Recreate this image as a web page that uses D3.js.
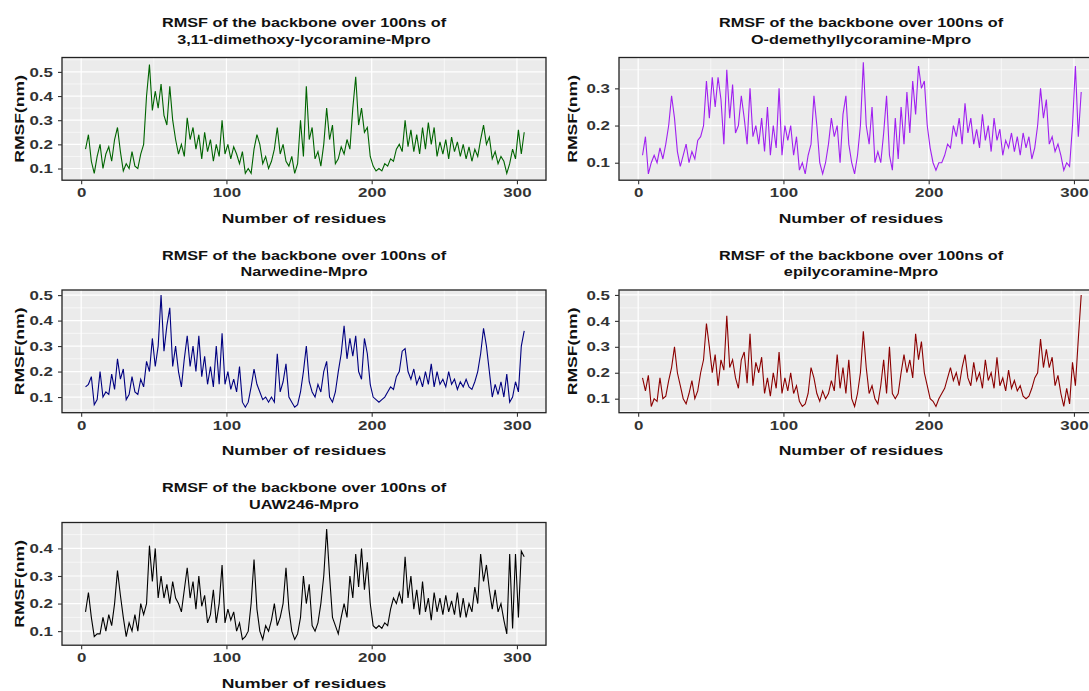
<!DOCTYPE html>
<html>
<head>
<meta charset="utf-8">
<script src="https://cdn.jsdelivr.net/npm/d3@7"></script>
<style>
  body { margin: 0; background: #fff; }
  svg { display: block; font-family: "Liberation Sans", Arial, sans-serif; }
</style>
</head>
<body>
<div id="chart"></div>
<script>
// residue positions (every second residue)
const residues = d3.range(3, 306, 2);

const rmsfDimethoxy = [
  0.18,0.24,0.13,0.08,0.15,0.20,0.10,0.16,0.19,0.13,
  0.22,0.27,0.17,0.09,0.12,0.10,0.17,0.11,0.10,0.16,
  0.20,0.40,0.53,0.34,0.42,0.35,0.45,0.32,0.28,0.44,
  0.30,0.22,0.16,0.20,0.15,0.31,0.22,0.27,0.18,0.24,
  0.14,0.25,0.17,0.22,0.13,0.20,0.15,0.30,0.16,0.20,
  0.14,0.19,0.16,0.12,0.17,0.08,0.10,0.08,0.18,0.24,
  0.20,0.12,0.15,0.10,0.13,0.18,0.27,0.16,0.20,0.13,
  0.11,0.15,0.08,0.12,0.30,0.15,0.44,0.22,0.27,0.14,
  0.17,0.11,0.20,0.35,0.22,0.28,0.12,0.14,0.19,0.16,
  0.22,0.18,0.35,0.48,0.28,0.35,0.25,0.27,0.15,0.11,
  0.09,0.10,0.09,0.12,0.11,0.14,0.13,0.18,0.20,0.17,
  0.30,0.19,0.26,0.17,0.24,0.16,0.27,0.18,0.29,0.20,
  0.27,0.15,0.21,0.16,0.22,0.14,0.23,0.17,0.21,0.15,
  0.20,0.14,0.19,0.13,0.18,0.15,0.22,0.28,0.20,0.23,
  0.14,0.17,0.12,0.15,0.13,0.08,0.12,0.18,0.14,0.26,
  0.16,0.25
];

const rmsfDemethyl = [
  0.12,0.17,0.07,0.10,0.12,0.10,0.14,0.11,0.15,0.20,
  0.28,0.22,0.13,0.09,0.12,0.15,0.10,0.13,0.11,0.16,
  0.17,0.20,0.32,0.22,0.33,0.25,0.33,0.27,0.15,0.35,
  0.22,0.31,0.18,0.20,0.28,0.22,0.15,0.30,0.17,0.20,
  0.15,0.22,0.13,0.25,0.12,0.20,0.14,0.30,0.12,0.20,
  0.16,0.20,0.12,0.17,0.08,0.10,0.07,0.12,0.15,0.28,
  0.20,0.10,0.07,0.10,0.15,0.22,0.17,0.20,0.10,0.23,
  0.28,0.15,0.10,0.07,0.12,0.20,0.37,0.20,0.15,0.25,
  0.10,0.13,0.10,0.18,0.28,0.12,0.08,0.22,0.11,0.25,
  0.15,0.29,0.18,0.32,0.23,0.36,0.30,0.32,0.20,0.14,
  0.10,0.08,0.10,0.10,0.12,0.15,0.14,0.20,0.17,0.22,
  0.15,0.26,0.18,0.22,0.15,0.19,0.14,0.23,0.16,0.20,
  0.13,0.22,0.16,0.19,0.12,0.16,0.14,0.18,0.13,0.17,
  0.12,0.18,0.14,0.17,0.11,0.14,0.20,0.30,0.22,0.27,
  0.15,0.17,0.13,0.15,0.12,0.08,0.10,0.09,0.20,0.36,
  0.17,0.29
];

const rmsfNarwedine = [
  0.14,0.15,0.18,0.07,0.09,0.20,0.10,0.12,0.11,0.19,
  0.13,0.25,0.17,0.21,0.09,0.11,0.18,0.12,0.11,0.17,
  0.14,0.24,0.20,0.33,0.22,0.30,0.50,0.28,0.38,0.45,
  0.22,0.30,0.20,0.14,0.25,0.34,0.22,0.30,0.20,0.34,
  0.18,0.26,0.15,0.22,0.14,0.30,0.15,0.35,0.15,0.20,
  0.13,0.17,0.12,0.22,0.08,0.06,0.08,0.14,0.21,0.15,
  0.12,0.09,0.10,0.08,0.10,0.08,0.27,0.12,0.16,0.23,
  0.10,0.08,0.06,0.07,0.12,0.20,0.30,0.16,0.12,0.10,
  0.15,0.12,0.20,0.24,0.10,0.08,0.12,0.20,0.27,0.38,
  0.25,0.33,0.26,0.34,0.20,0.17,0.33,0.27,0.15,0.10,
  0.09,0.08,0.09,0.10,0.12,0.14,0.13,0.18,0.20,0.28,
  0.29,0.20,0.17,0.21,0.15,0.18,0.14,0.20,0.15,0.23,
  0.14,0.20,0.15,0.17,0.14,0.20,0.15,0.17,0.13,0.16,
  0.14,0.17,0.14,0.13,0.16,0.20,0.27,0.37,0.30,0.20,
  0.10,0.15,0.11,0.16,0.10,0.19,0.08,0.10,0.16,0.12,
  0.30,0.36
];

const rmsfEpilycoramine = [
  0.18,0.13,0.19,0.07,0.10,0.09,0.18,0.10,0.11,0.17,
  0.22,0.30,0.20,0.15,0.10,0.08,0.12,0.17,0.10,0.13,
  0.20,0.25,0.39,0.30,0.20,0.27,0.15,0.25,0.21,0.42,
  0.22,0.25,0.18,0.14,0.25,0.28,0.16,0.35,0.15,0.24,
  0.20,0.26,0.12,0.18,0.11,0.20,0.14,0.28,0.12,0.18,
  0.13,0.20,0.12,0.15,0.09,0.07,0.08,0.12,0.22,0.18,
  0.12,0.09,0.13,0.10,0.12,0.17,0.13,0.27,0.14,0.22,
  0.12,0.25,0.10,0.07,0.12,0.20,0.36,0.22,0.12,0.15,
  0.10,0.08,0.15,0.25,0.12,0.30,0.12,0.10,0.12,0.20,
  0.27,0.20,0.25,0.18,0.35,0.25,0.32,0.20,0.15,0.10,
  0.09,0.07,0.10,0.12,0.14,0.18,0.22,0.17,0.20,0.15,
  0.22,0.27,0.18,0.15,0.24,0.17,0.20,0.14,0.25,0.17,
  0.20,0.14,0.26,0.15,0.18,0.13,0.21,0.14,0.17,0.13,
  0.15,0.11,0.10,0.11,0.14,0.18,0.20,0.33,0.22,0.29,
  0.22,0.26,0.15,0.19,0.12,0.07,0.14,0.08,0.24,0.15,
  0.33,0.50
];

const rmsfUAW246 = [
  0.17,0.24,0.15,0.08,0.09,0.09,0.15,0.10,0.16,0.12,
  0.20,0.32,0.23,0.15,0.08,0.13,0.10,0.16,0.10,0.20,
  0.16,0.20,0.41,0.28,0.40,0.22,0.30,0.22,0.27,0.20,
  0.28,0.22,0.20,0.17,0.25,0.33,0.22,0.28,0.18,0.30,
  0.19,0.23,0.13,0.16,0.25,0.13,0.20,0.34,0.13,0.18,
  0.14,0.17,0.10,0.13,0.07,0.08,0.10,0.20,0.36,0.18,
  0.10,0.07,0.12,0.10,0.14,0.20,0.12,0.15,0.20,0.33,
  0.18,0.10,0.07,0.09,0.15,0.30,0.20,0.27,0.12,0.10,
  0.13,0.20,0.30,0.47,0.30,0.15,0.12,0.09,0.15,0.20,
  0.15,0.30,0.22,0.38,0.26,0.40,0.25,0.35,0.20,0.12,
  0.11,0.12,0.11,0.13,0.12,0.18,0.22,0.20,0.24,0.20,
  0.37,0.22,0.30,0.18,0.25,0.16,0.28,0.17,0.22,0.14,
  0.24,0.17,0.22,0.16,0.23,0.17,0.21,0.16,0.24,0.15,
  0.22,0.15,0.20,0.17,0.26,0.20,0.38,0.28,0.34,0.25,
  0.18,0.25,0.17,0.20,0.14,0.09,0.38,0.11,0.38,0.15,
  0.39,0.37
];

const seriesList = [rmsfDimethoxy, rmsfDemethyl, rmsfNarwedine, rmsfEpilycoramine, rmsfUAW246];
const compounds = ["3,11-dimethoxy-lycoramine-Mpro", "O-demethyllycoramine-Mpro",
                   "Narwedine-Mpro", "epilycoramine-Mpro", "UAW246-Mpro"];
const lineColors = ["#006400", "#A020F0", "#000080", "#8B0000", "#000000"];
const yTicks = [[0.1,0.2,0.3,0.4,0.5], [0.1,0.2,0.3], [0.1,0.2,0.3,0.4,0.5], [0.1,0.2,0.3,0.4,0.5], [0.1,0.2,0.3,0.4]];
const yLimits = [[0.0516,0.5596], [0.053,0.383], [0.0386,0.52], [0.046,0.519], [0.049,0.494]];
const xTicks = [0, 100, 200, 300];
const xLimits = [-13.2, 320];

const width = 1089, height = 691;
const plotW = 484, plotH = 122.7;
const colLeft = [62, 619];
const rowTop = [57.5, 290, 522.5];
const stretch = 1.3; // the reference font runs wide

const svg = d3.select('#chart').append('svg')
  .attr('width', width).attr('height', height);

function label(g, x, y, txt, size, rot) {
  return g.append('text')
    .attr('transform', `translate(${x}, ${y})` + (rot ? ` rotate(${rot})` : '') + ` scale(${stretch}, 1)`)
    .attr('text-anchor', 'middle')
    .style('font-size', size + 'px').style('font-weight', 'bold').attr('fill', '#111')
    .text(txt);
}

seriesList.forEach((values, i) => {
  const col = i % 2, row = Math.floor(i / 2);
  const g = svg.append('g')
    .attr('transform', `translate(${colLeft[col]}, ${rowTop[row]})`);

  const x = d3.scaleLinear().domain(xLimits).range([0, plotW]);
  const y = d3.scaleLinear().domain(yLimits[i]).range([plotH, 0]);

  g.append('rect').attr('width', plotW).attr('height', plotH).attr('fill', '#EBEBEB');

  // minor grid
  const yt = yTicks[i];
  const step = yt[1] - yt[0];
  const yMinor = d3.range(yt[0] - step / 2, yt[yt.length - 1] + step, step)
    .filter(v => v > yLimits[i][0] && v < yLimits[i][1]);
  const xMinor = [-50, 50, 150, 250, 350].filter(v => v > xLimits[0] && v < xLimits[1]);

  g.selectAll('.ymin').data(yMinor).join('line')
    .attr('x1', 0).attr('x2', plotW).attr('y1', d => y(d)).attr('y2', d => y(d))
    .attr('stroke', '#fff').attr('stroke-width', 0.6);
  g.selectAll('.xmin').data(xMinor).join('line')
    .attr('y1', 0).attr('y2', plotH).attr('x1', d => x(d)).attr('x2', d => x(d))
    .attr('stroke', '#fff').attr('stroke-width', 0.6);
  g.selectAll('.ymaj').data(yt).join('line')
    .attr('x1', 0).attr('x2', plotW).attr('y1', d => y(d)).attr('y2', d => y(d))
    .attr('stroke', '#fff').attr('stroke-width', 1.2);
  g.selectAll('.xmaj').data(xTicks).join('line')
    .attr('y1', 0).attr('y2', plotH).attr('x1', d => x(d)).attr('x2', d => x(d))
    .attr('stroke', '#fff').attr('stroke-width', 1.2);

  // the RMSF line
  const pts = residues.map((r, k) => [r, values[k]]);
  g.append('path')
    .datum(pts)
    .attr('fill', 'none')
    .attr('stroke', lineColors[i])
    .attr('stroke-width', 1.1)
    .attr('d', d3.line().x(d => x(d[0])).y(d => y(d[1])));

  g.append('rect').attr('width', plotW).attr('height', plotH)
    .attr('fill', 'none').attr('stroke', '#222').attr('stroke-width', 1.3);

  // axes
  const yAxis = g.append('g')
    .call(d3.axisLeft(y).tickValues(yt).tickSize(4).tickPadding(3).tickFormat(d3.format('.1f')));
  const xAxis = g.append('g')
    .attr('transform', `translate(0, ${plotH})`)
    .call(d3.axisBottom(x).tickValues(xTicks).tickSize(4).tickPadding(4));
  [yAxis, xAxis].forEach(a => {
    a.select('.domain').remove();
    a.selectAll('line').attr('stroke', '#333').attr('stroke-width', 1.1);
    a.selectAll('text').attr('fill', '#333').attr('transform', `scale(${stretch}, 1)`)
      .style('font-size', '13px').style('font-weight', 'bold');
  });

  // titles
  label(g, plotW / 2, -30.5, 'RMSF of the backbone over 100ns of', 12.5);
  label(g, plotW / 2, -14, compounds[i], 12.5);
  label(g, plotW / 2, plotH + 42.5, 'Number of residues', 13.5);
  label(g, col === 0 ? -38 : -42, plotH / 2, 'RMSF(nm)', 13.5, -90);
});
</script>
</body>
</html>
